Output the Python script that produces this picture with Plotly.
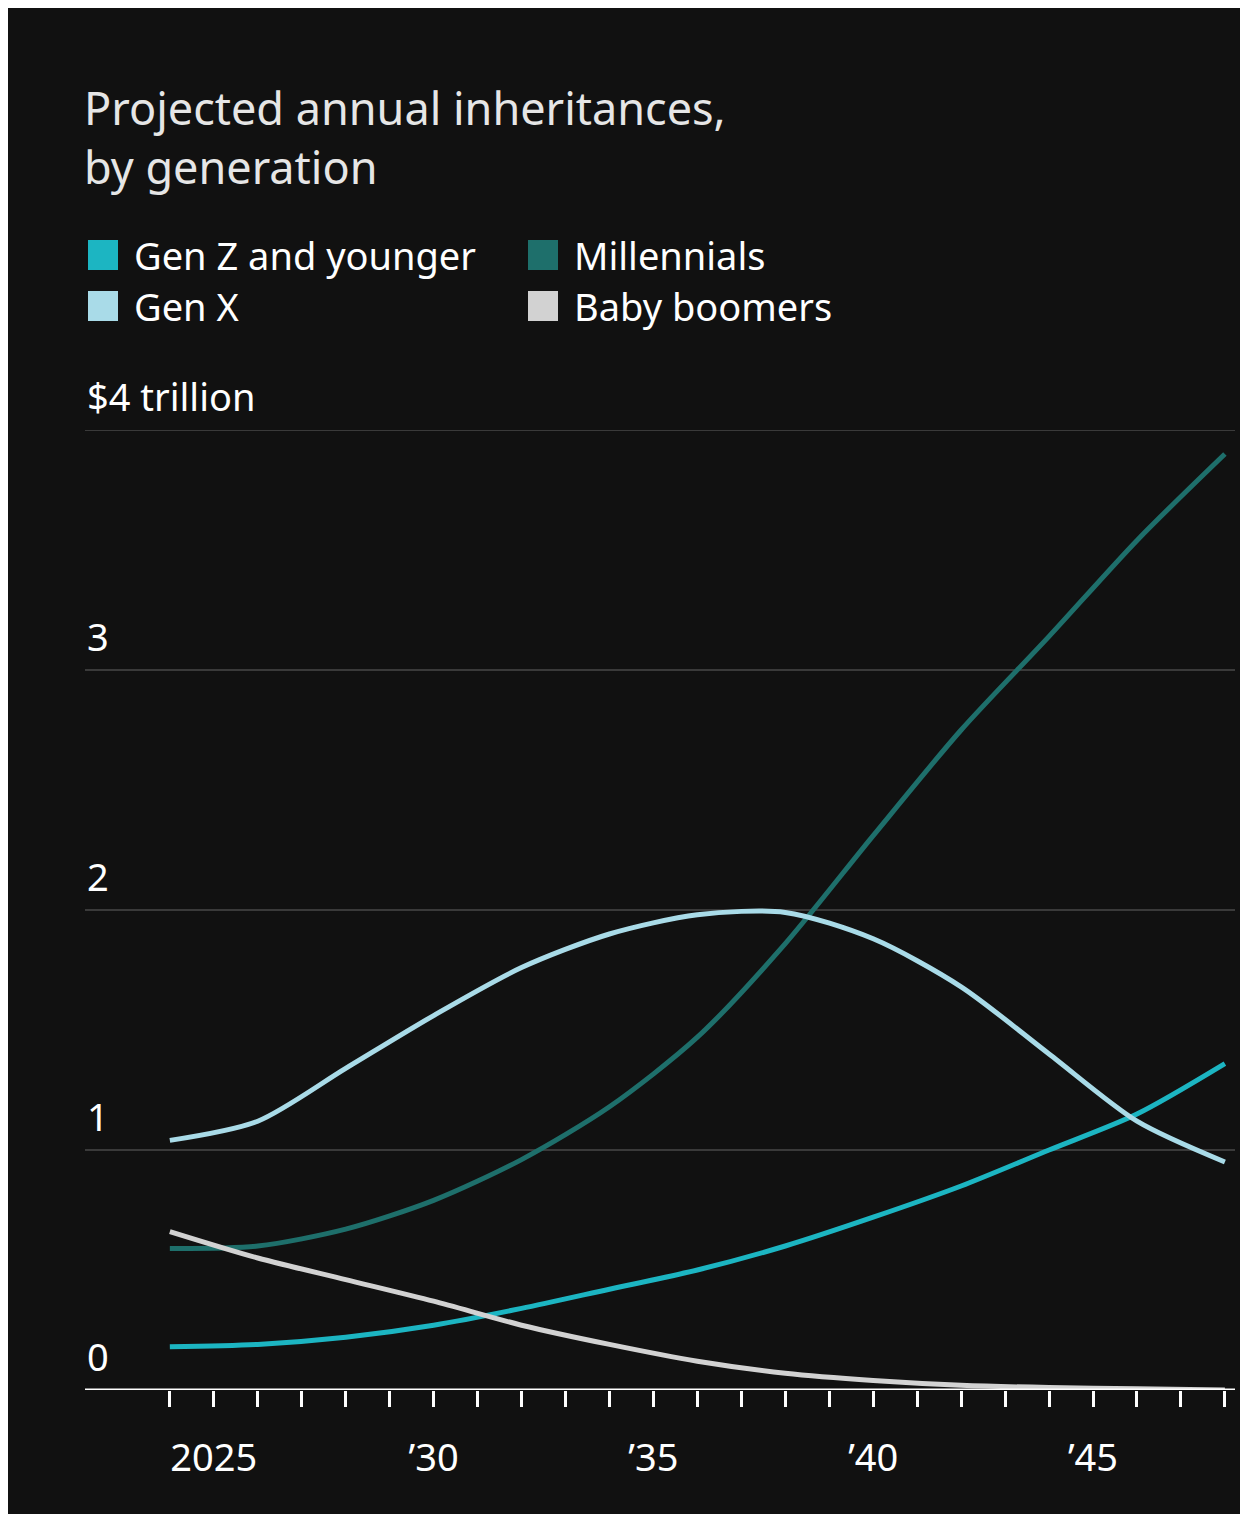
import plotly.graph_objects as go

years = list(range(2024, 2049, 2))
gen_z = [0.18, 0.19, 0.22, 0.27, 0.34, 0.42, 0.50, 0.60, 0.72, 0.85, 1.00, 1.15, 1.36]
millennials = [0.59, 0.60, 0.67, 0.79, 0.96, 1.18, 1.47, 1.86, 2.31, 2.75, 3.14, 3.54, 3.90]
gen_x = [1.04, 1.12, 1.34, 1.56, 1.76, 1.90, 1.98, 1.99, 1.88, 1.68, 1.40, 1.12, 0.95]
boomers = [0.66, 0.55, 0.46, 0.37, 0.27, 0.19, 0.12, 0.07, 0.04, 0.02, 0.01, 0.005, 0.0]

series = [("Gen Z and younger", gen_z, "#1cb5c2"),
          ("Millennials", millennials, "#1e6f6b"),
          ("Gen X", gen_x, "#a9dbe8"),
          ("Baby boomers", boomers, "#d2d2d2")]

fig = go.Figure()
for name, vals, col in series:
    fig.add_trace(go.Scatter(x=years, y=vals, mode="lines", name=name,
                             line=dict(color=col, width=5, shape="spline", smoothing=0.8),
                             showlegend=False))

tick_years = list(range(2024, 2049))
tick_text = {2025: "2025", 2030: "’30", 2035: "’35", 2040: "’40", 2045: "’45"}
font = "Noto Sans"
fig.update_layout(
    width=1248, height=1514, paper_bgcolor="#111111", plot_bgcolor="#111111",
    margin=dict(l=77, r=21, t=422, b=132),
    font=dict(family=font, color="white"),
    xaxis=dict(range=[2022.07, 2048.23], tickvals=tick_years,
               ticktext=[tick_text.get(y, "") for y in tick_years],
               ticks="outside", ticklen=16, tickwidth=3, tickcolor="white",
               showgrid=False, zeroline=False, showline=False,
               tickfont=dict(size=38, color="white"), ticklabelstandoff=18),
    yaxis=dict(range=[0, 4], tickvals=[1, 2, 3], showticklabels=False,
               gridcolor="#3a3a3a", gridwidth=2, zeroline=False, showline=False),
)
fig.add_shape(type="line", xref="paper", yref="y", x0=0, x1=1, y0=4, y1=4,
              line=dict(color="#3a3a3a", width=2))
fig.add_shape(type="line", xref="paper", yref="y", x0=0, x1=1, y0=0, y1=0,
              line=dict(color="white", width=3))
ylabels = {0: "0", 1: "1", 2: "2", 3: "3", 4: "$4 trillion"}
for v, t in ylabels.items():
    fig.add_annotation(x=0, xref="paper", y=v, yref="y", text=t, showarrow=False,
                       xanchor="left", yanchor="bottom", yshift=6,
                       font=dict(size=38, color="white"))

def py(pix):  # page pixel y -> paper y
    return (1390 - pix) / 960.0

def px(pix):
    return (pix - 85) / 1150.0

title = "Projected annual inheritances,<br>by generation"
fig.add_annotation(xref="paper", yref="paper", x=px(82), y=py(75), text=title,
                   showarrow=False, xanchor="left", yanchor="top", align="left",
                   font=dict(size=45, color="#e6e6e6"))
legend_pos = [(88, 255), (528, 255), (88, 306), (528, 306)]
for (name, _, col), (lx, ly) in zip(series, legend_pos):
    fig.add_shape(type="rect", xref="paper", yref="paper",
                  x0=px(lx), x1=px(lx + 30), y0=py(ly + 15), y1=py(ly - 15),
                  fillcolor=col, line=dict(width=0))
    fig.add_annotation(xref="paper", yref="paper", x=px(lx + 44), y=py(ly), text=name,
                       showarrow=False, xanchor="left", yanchor="middle",
                       font=dict(size=38, color="white"))
fig.write_html("out.html")
